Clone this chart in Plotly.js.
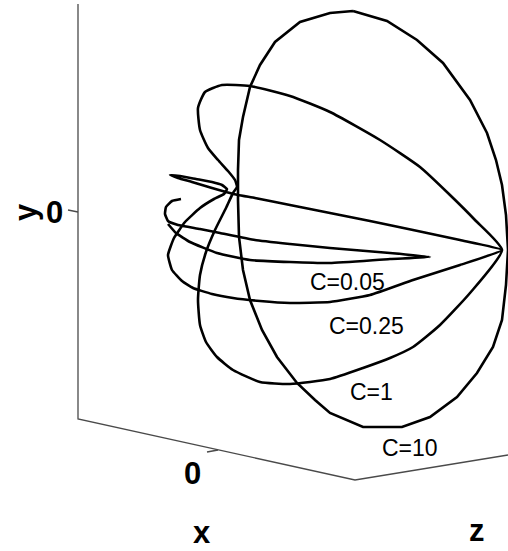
<!DOCTYPE html>
<html>
<head>
<meta charset="utf-8">
<script src="https://cdn.plot.ly/plotly-3.0.1.min.js"></script>
<style>
  html, body { margin: 0; padding: 0; background: #ffffff; }
  #chart { width: 508px; height: 551px; }
</style>
</head>
<body>
<div id="chart"></div>
<script>
// Projected (screen-plane) coordinates of the four orbits, origin at the y-axis zero tick.
// u grows to the right, v grows upward.
const curveNames = ["C=10", "C=1", "C=0.25", "C=0.05"];

const c10U = [275, 252, 222, 197, 182, 172, 165, 161, 160, 160, 161, 165, 172, 184, 199, 219, 237, 252, 285, 324, 352, 379, 399, 415, 424, 428, 430, 428, 424, 418, 409, 392, 365, 339, 309, 275];
const c10V = [201, 199, 190, 170, 147, 125, 95, 72, 42, 12, -25, -58, -88, -118, -145, -171, -188, -201, -215, -215, -205, -185, -161, -135, -108, -73, -38, -3, 27, 52, 79, 112, 149, 172, 191, 201];

const c1U = [424, 397, 372, 342, 302, 252, 212, 172, 144, 127, 120, 122, 130, 140, 150, 157, 159, 155, 148, 137, 128, 122, 120, 122, 128, 139, 155, 182, 212, 252, 285, 312, 335, 362, 392, 424];
const c1V = [-38, -8, 17, 45, 72, 100, 116, 126, 127, 120, 104, 82, 64, 52, 41, 32, 25, 19, 4, -18, -40, -63, -88, -113, -130, -145, -158, -170, -172, -167, -156, -146, -135, -113, -81, -38];

const c025U = [424, 382, 335, 292, 252, 212, 177, 160, 148, 134, 114, 100, 92, 102, 118, 134, 144, 149, 146, 136, 122, 107, 96, 90, 94, 104, 115, 134, 155, 182, 212, 252, 292, 335, 382, 424];
const c025V = [-38, -28, -18, -9, -1, 7, 14, 17, 20, 24, 30, 34, 37, 36, 33, 30, 27, 23, 18, 13, 4, -10, -26, -43, -58, -69, -76, -82, -86, -89, -91, -90, -83, -68, -53, -38];

const c005U = [103, 94, 88, 87, 90, 100, 122, 142, 177, 212, 252, 312, 352, 312, 252, 212, 172, 139, 112, 98, 90];
const c005V = [13, 11, 5, -2, -9, -13, -17, -21, -28, -32, -36, -41, -45, -47, -51, -50, -48, -41, -30, -21, -12];

// Label anchor points for each orbit, in the same plane
const labelU = [332, 293, 288, 269];
const labelV = [-236, -180, -114, -70];

// Box edges: vertical y axis, x axis running to the front corner, z axis running off to the right
const frameU = [0, 0, 277, 430];
const frameV = [208, -207, -268, -243];

// Zero ticks on the y and x axes
const yTickU = [-10, 0];
const yTickV = [2, 0];
const xTickU = [140, 129];
const xTickV = [-238, -240];
const tickText = ["0", "0"];
const tickLabelU = [-24, 114];
const tickLabelV = [0, -261];

// Axis names
const axisNames = ["x", "y", "z"];
const axisNameU = [124, -53, 399];
const axisNameV = [-320, 0, -318];

const curveLine = { color: "#000000", width: 2.6 };

const traces = [
  { x: frameU, y: frameV, mode: "lines", line: { color: "#4a4a4a", width: 1.3 }, hoverinfo: "skip" },
  { x: yTickU, y: yTickV, mode: "lines", line: { color: "#4a4a4a", width: 1.3 }, hoverinfo: "skip" },
  { x: xTickU, y: xTickV, mode: "lines", line: { color: "#4a4a4a", width: 1.3 }, hoverinfo: "skip" },
  { x: c10U, y: c10V, mode: "lines", name: curveNames[0], line: curveLine },
  { x: c1U, y: c1V, mode: "lines", name: curveNames[1], line: Object.assign({ shape: "spline", smoothing: 0.5 }, curveLine) },
  { x: c025U, y: c025V, mode: "lines", name: curveNames[2], line: Object.assign({ shape: "spline", smoothing: 0.4 }, curveLine) },
  { x: c005U, y: c005V, mode: "lines", name: curveNames[3], line: Object.assign({ shape: "spline", smoothing: 0.4 }, curveLine) }
];

const labelFont = { family: "Liberation Sans, Arial, sans-serif", size: 23, color: "#000000" };
const bigFont = { family: "Liberation Sans, Arial, sans-serif", size: 31, color: "#000000", weight: "bold" };

const annotations = [];
curveNames.forEach(function (name, i) {
  annotations.push({ x: labelU[i], y: labelV[i], xref: "x", yref: "y", text: name, showarrow: false,
    xanchor: "center", yanchor: "middle", font: labelFont });
});
tickText.forEach(function (t, i) {
  annotations.push({ x: tickLabelU[i], y: tickLabelV[i], xref: "x", yref: "y", text: t, showarrow: false,
    xanchor: "center", yanchor: "middle", font: bigFont });
});
axisNames.forEach(function (t, i) {
  annotations.push({ x: axisNameU[i], y: axisNameV[i], xref: "x", yref: "y", text: t, showarrow: false,
    xanchor: "center", yanchor: "middle", borderpad: 0, textangle: t === "y" ? -90 : 0, font: bigFont });
});

const layout = {
  width: 508,
  height: 551,
  margin: { l: 0, r: 0, t: 0, b: 0, pad: 0 },
  paper_bgcolor: "#ffffff",
  plot_bgcolor: "#ffffff",
  showlegend: false,
  xaxis: { range: [-78, 430], visible: false, fixedrange: true },
  yaxis: { range: [-339, 212], visible: false, fixedrange: true },
  annotations: annotations
};

Plotly.newPlot("chart", traces, layout, { displayModeBar: false, staticPlot: true });
</script>
</body>
</html>
